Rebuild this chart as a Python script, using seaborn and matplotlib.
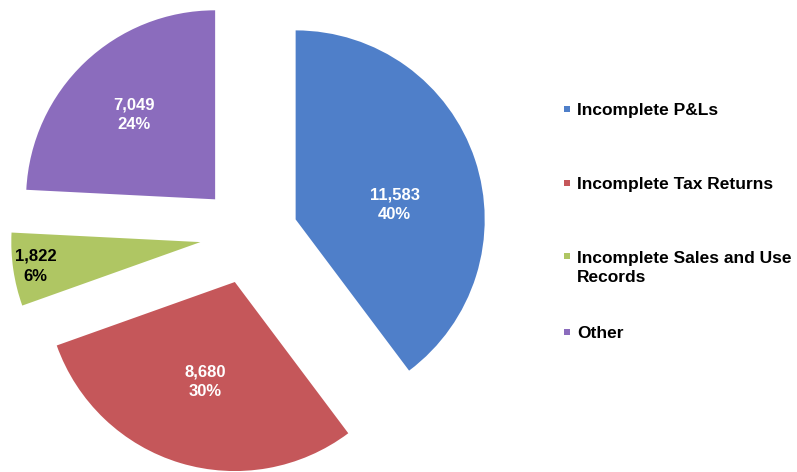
import numpy as np
import matplotlib.pyplot as plt
import seaborn as sns

# data
categories = ["Incomplete P&Ls", "Incomplete Tax Returns",
              "Incomplete Sales and Use\nRecords", "Other"]
counts = [11583, 8680, 1822, 7049]
slice_colors = ["#4F7FC9", "#C5575A", "#AFC663", "#8B6CBD"]
label_colors = ["white", "white", "black", "white"]

sns.set_theme(style="white")
plt.rcParams["font.family"] = ["Liberation Sans", "DejaVu Sans"]
palette = sns.color_palette(slice_colors)

fig = plt.figure(figsize=(7.97, 4.72), dpi=100)

# pie area (left part of the figure, pie partly cut by the left edge)
ax = fig.add_axes([0, 0, 498 / 797, 1])
wedges, _ = ax.pie(counts, colors=palette, startangle=90, counterclock=False,
                   explode=[0.26] * len(counts), wedgeprops=dict(linewidth=0))
ax.set_aspect("auto")
ax.set_xlim(-1.317, 1.317)
ax.set_ylim(-1.254, 1.243)

# value / percent labels inside the slices
total = sum(counts)
label_dist = [0.53, 0.55, 0.88, 0.62]
label_shift = [-10, 0, 0, 0]
for w, n, tc, d, s in zip(wedges, counts, label_colors, label_dist, label_shift):
    ang = np.deg2rad((w.theta1 + w.theta2) / 2 + s)
    cx, cy = w.center
    ax.text(cx + d * w.r * np.cos(ang), cy + d * w.r * np.sin(ang),
            f"{n:,}\n{n / total:.0%}", color=tc, fontsize=12,
            fontweight="bold", ha="center", va="center", linespacing=1.4)

# legend drawn by hand on an overlay axes in pixel units
lax = fig.add_axes([0, 0, 1, 1])
legend_y = [109, 183, 256, 332]
line_step = 22
for y, lab, col in zip(legend_y, categories, palette):
    n_lines = lab.count("\n") + 1
    lax.scatter(567, y, marker="s", s=20, color=col, linewidths=0)
    lax.text(577, y + 1 + (n_lines - 1) * line_step / 2, lab, fontsize=12.5,
             fontweight="bold", color="black", ha="left", va="center",
             linespacing=1.4)
lax.set_xlim(0, 797)
lax.set_ylim(472, 0)
lax.axis("off")

fig.savefig("out.png", dpi=100)
